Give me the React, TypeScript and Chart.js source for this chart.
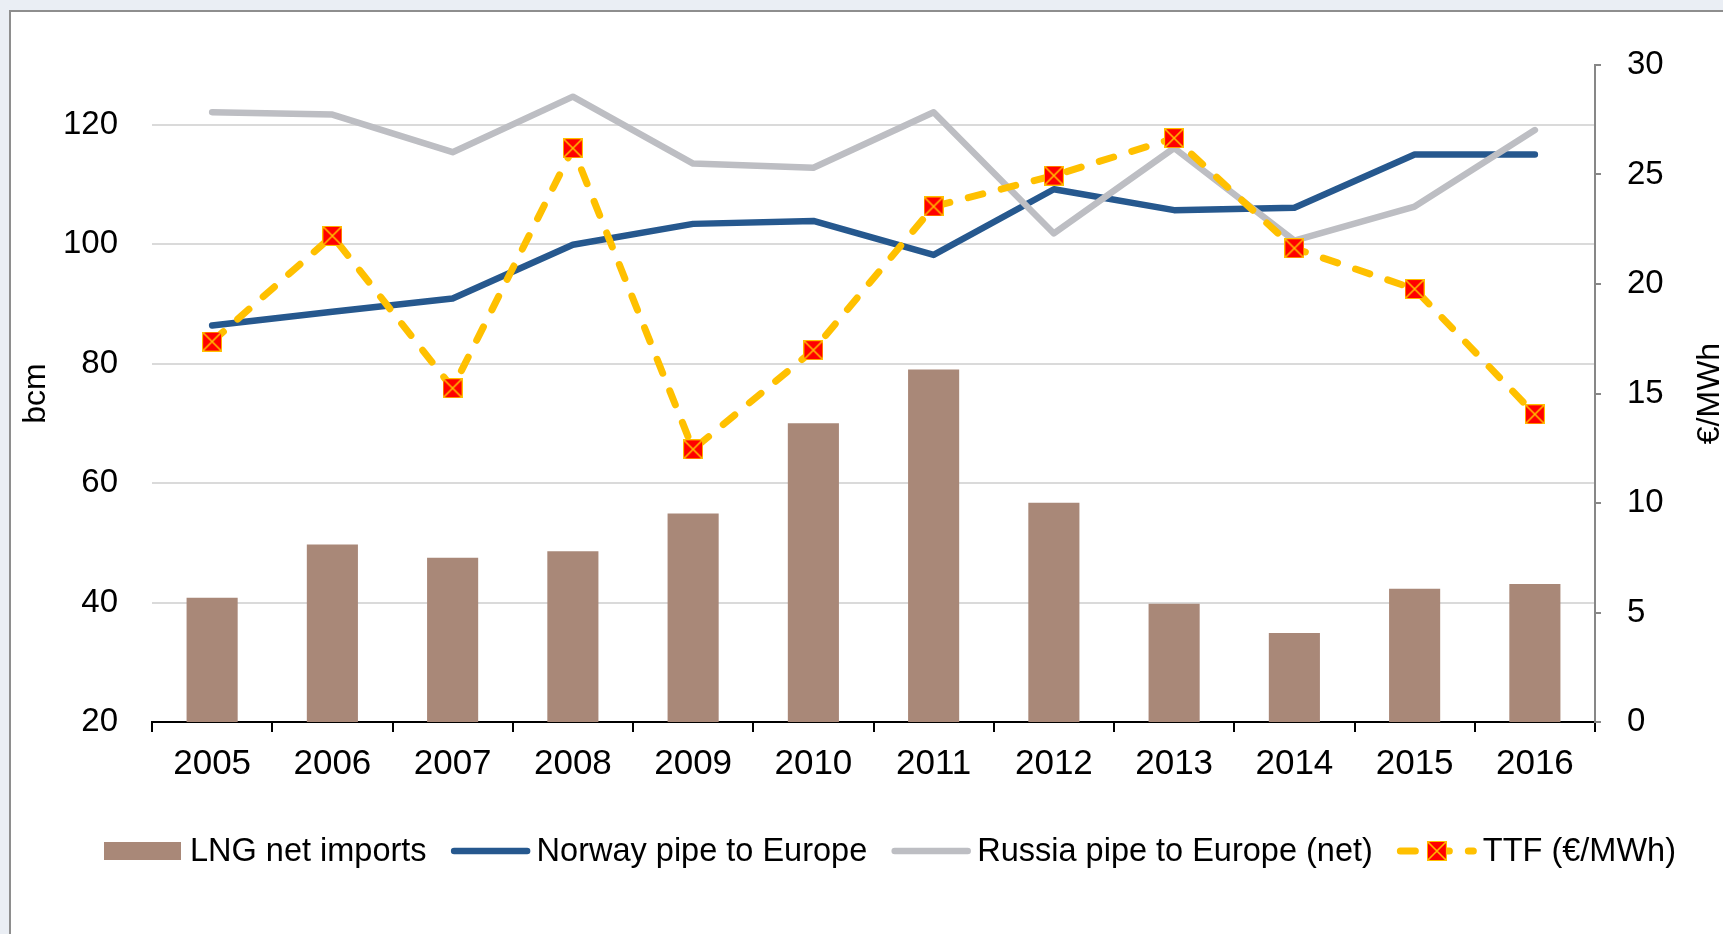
import React, { useEffect, useRef } from 'react';
import { Chart, registerables } from 'chart.js';

Chart.register(...registerables);

// ---- Data ----
const years = ['2005', '2006', '2007', '2008', '2009', '2010', '2011', '2012', '2013', '2014', '2015', '2016'];
const lngNetImports = [40.8, 49.7, 47.5, 48.6, 54.9, 70.0, 79.0, 56.7, 39.8, 34.9, 42.3, 43.1];
const norwayPipe = [86.4, 88.7, 90.9, 99.9, 103.4, 103.9, 98.2, 109.2, 105.7, 106.1, 115.0, 115.0];
const russiaPipe = [122.1, 121.7, 115.4, 124.7, 113.5, 112.8, 122.1, 101.8, 116.1, 100.6, 106.3, 119.1];
const ttfPrice = [17.37, 22.2, 15.24, 26.2, 12.45, 16.98, 23.54, 24.95, 26.66, 21.63, 19.77, 14.05];

const leftTicks = [20, 40, 60, 80, 100, 120];
const rightTicks = [0, 5, 10, 15, 20, 25, 30];
const leftMin = 20;
const leftMax = 130;
const rightMin = 0;
const rightMax = 30;

const seriesLabels = ['LNG net imports', 'Norway pipe to Europe', 'Russia pipe to Europe (net)', 'TTF (€/MWh)'];
const leftTitle = 'bcm';
const rightTitle = '€/MWh';

const FONT = '"Liberation Sans", Arial, Helvetica, sans-serif';

function makeMarker(): HTMLCanvasElement {
  const c = document.createElement('canvas');
  c.width = 20;
  c.height = 20;
  const g = c.getContext('2d')!;
  g.fillStyle = '#FF0000';
  g.fillRect(0, 0, 20, 20);
  g.strokeStyle = '#FFC000';
  g.lineWidth = 1;
  g.strokeRect(0.5, 0.5, 19, 19);
  g.lineWidth = 1.6;
  g.beginPath();
  g.moveTo(1, 1);
  g.lineTo(19, 19);
  g.moveTo(19, 1);
  g.lineTo(1, 19);
  g.stroke();
  return c;
}

const legendPlugin = {
  id: 'customLegend',
  afterDraw(chart: any) {
    const ctx = chart.ctx as CanvasRenderingContext2D;
    const y = 851;
    let x = 104;
    const sw = 80;
    ctx.save();
    ctx.font = `32.5px ${FONT}`;
    ctx.textBaseline = 'middle';
    ctx.textAlign = 'left';
    chart.data.datasets.forEach((ds: any) => {
      if (ds.type === 'bar') {
        ctx.fillStyle = ds.backgroundColor;
        ctx.fillRect(x, y - 9, 77, 18);
      } else {
        ctx.strokeStyle = ds.borderColor;
        ctx.lineWidth = ds.borderWidth;
        ctx.lineCap = 'round';
        ctx.setLineDash(ds.borderDash || []);
        ctx.beginPath();
        ctx.moveTo(x + 3.5, y);
        ctx.lineTo(x + sw - 3.5, y);
        ctx.stroke();
        ctx.setLineDash([]);
        if (ds.pointStyle && typeof ds.pointStyle === 'object') {
          ctx.drawImage(ds.pointStyle, x + sw / 2 - 10, y - 10);
        }
      }
      x += sw + 6;
      ctx.fillStyle = '#000';
      ctx.fillText(ds.label, x, y + 1);
      x += ctx.measureText(ds.label).width + 24;
    });
    ctx.restore();
  },
};

const rightTitlePlugin = {
  id: 'rightTitle',
  afterDraw(chart: any) {
    const ctx = chart.ctx as CanvasRenderingContext2D;
    const area = chart.chartArea;
    ctx.save();
    ctx.font = `32px ${FONT}`;
    ctx.fillStyle = '#000';
    ctx.textAlign = 'center';
    ctx.textBaseline = 'alphabetic';
    ctx.translate(chart.width - 4, (area.top + area.bottom) / 2);
    ctx.rotate(-Math.PI / 2);
    ctx.fillText(rightTitle, 0, 0);
    ctx.restore();
  },
};

export default function App() {
  const canvasRef = useRef<HTMLCanvasElement | null>(null);

  useEffect(() => {
    document.body.style.margin = '0';
    document.body.style.overflow = 'hidden';
    const canvas = canvasRef.current;
    if (!canvas) return;
    const marker = makeMarker();

    const chart = new Chart(canvas, {
      type: 'bar',
      data: {
        labels: years,
        datasets: [
          {
            type: 'bar',
            label: seriesLabels[0],
            data: lngNetImports,
            backgroundColor: '#A98878',
            borderWidth: 0,
            yAxisID: 'y',
            categoryPercentage: 1,
            barPercentage: 0.425,
            order: 3,
          } as any,
          {
            type: 'line',
            label: seriesLabels[1],
            data: norwayPipe,
            borderColor: '#26588E',
            backgroundColor: '#26588E',
            borderWidth: 6.5,
            borderCapStyle: 'round',
            borderJoinStyle: 'round',
            pointRadius: 0,
            tension: 0,
            yAxisID: 'y',
            order: 2,
          } as any,
          {
            type: 'line',
            label: seriesLabels[2],
            data: russiaPipe,
            borderColor: '#BDBEC3',
            backgroundColor: '#BDBEC3',
            borderWidth: 6.5,
            borderCapStyle: 'round',
            borderJoinStyle: 'round',
            pointRadius: 0,
            tension: 0,
            yAxisID: 'y',
            order: 1,
          } as any,
          {
            type: 'line',
            label: seriesLabels[3],
            data: ttfPrice,
            borderColor: '#FFC000',
            backgroundColor: '#FF0000',
            borderWidth: 7,
            borderDash: [15, 19],
            borderCapStyle: 'round',
            borderJoinStyle: 'round',
            pointStyle: marker,
            pointRadius: 10,
            tension: 0,
            yAxisID: 'yR',
            order: 0,
          } as any,
        ],
      },
      options: {
        responsive: false,
        animation: false,
        devicePixelRatio: 1,
        layout: { padding: { top: 65, left: 0, right: 0, bottom: 0 } },
        plugins: {
          legend: { display: false },
          tooltip: { enabled: false },
        },
        font: { family: FONT },
        scales: {
          x: {
            type: 'category',
            offset: true,
            grid: {
              display: true,
              offset: true,
              drawOnChartArea: false,
              drawTicks: true,
              tickLength: 10,
              color: '#000',
              lineWidth: 2,
            },
            border: { display: true, color: '#000', width: 2 },
            ticks: {
              color: '#000',
              font: { size: 35, family: FONT },
              padding: 11,
              maxRotation: 0,
              autoSkip: false,
            },
            afterFit: (s: any) => {
              s.height = 212;
            },
          },
          y: {
            type: 'linear',
            position: 'left',
            min: leftMin,
            max: leftMax,
            afterBuildTicks: (s: any) => {
              s.ticks = leftTicks.map((v) => ({ value: v }));
            },
            grid: {
              display: true,
              drawTicks: false,
              color: '#DADADA',
              lineWidth: 2,
            },
            border: { display: false },
            ticks: {
              color: '#000',
              font: { size: 33, family: FONT },
              padding: 34,
            },
            title: {
              display: true,
              text: leftTitle,
              color: '#000',
              font: { size: 32, family: FONT },
              padding: { top: 17, bottom: 0 },
            },
            afterFit: (s: any) => {
              s.width = 152;
            },
          },
          yR: {
            type: 'linear',
            position: 'right',
            min: rightMin,
            max: rightMax,
            afterBuildTicks: (s: any) => {
              s.ticks = rightTicks.map((v) => ({ value: v }));
            },
            grid: {
              display: true,
              drawOnChartArea: false,
              drawTicks: true,
              tickLength: 6,
              color: '#878787',
              lineWidth: 2,
            },
            border: { display: true, color: '#878787', width: 2 },
            ticks: {
              color: '#000',
              font: { size: 33, family: FONT },
              padding: 26,
            },
            afterFit: (s: any) => {
              s.width = 128;
            },
          },
        },
      } as any,
      plugins: [legendPlugin, rightTitlePlugin],
    });

    return () => {
      chart.destroy();
    };
  }, []);

  return (
    <div
      style={{
        position: 'absolute',
        left: 0,
        top: 0,
        width: 1723,
        height: 934,
        overflow: 'hidden',
        background: '#EAEEF4',
      }}
    >
      <div
        style={{
          position: 'absolute',
          left: 9,
          top: 10,
          width: 1740,
          height: 960,
          background: '#FFFFFF',
          border: '2px solid #8E8E8E',
        }}
      />
      <canvas
        ref={canvasRef}
        width={1723}
        height={934}
        style={{ position: 'absolute', left: 0, top: 0, width: 1723, height: 934 }}
      />
    </div>
  );
}
